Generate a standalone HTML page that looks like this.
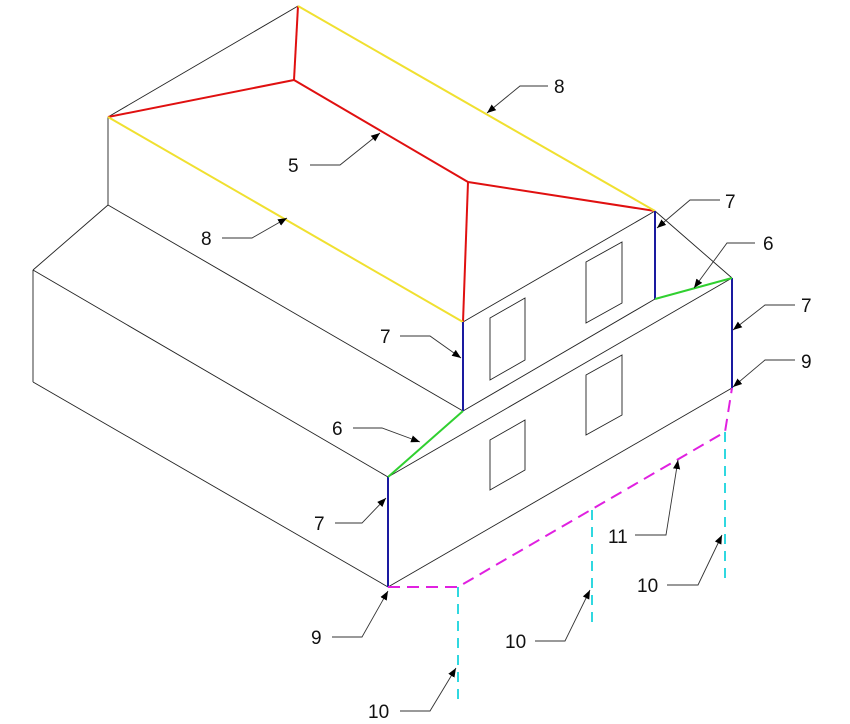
<!DOCTYPE html>
<html><head><meta charset="utf-8"><style>body{margin:0;background:#fff}svg{display:block}text{font-family:"Liberation Sans",sans-serif;font-size:19px;fill:#111}</style></head>
<body>
<svg width="850" height="724" viewBox="0 0 850 724" xmlns="http://www.w3.org/2000/svg">
<defs><marker id="a" viewBox="0 0 10 10" refX="10" refY="5" markerWidth="9" markerHeight="9" markerUnits="userSpaceOnUse" orient="auto"><path d="M0,1 L10,5 L0,9z" fill="#000"/></marker></defs>
<g stroke="#222" stroke-width="0.9" fill="none">
<line x1="298" y1="6" x2="108" y2="117"/>
<line x1="108" y1="117" x2="108" y2="205"/>
<line x1="108" y1="205" x2="33" y2="270"/>
<line x1="33" y1="270" x2="33" y2="382"/>
<line x1="33" y1="382" x2="388" y2="587"/>
<line x1="33" y1="270" x2="388" y2="477"/>
<line x1="108" y1="205" x2="463" y2="411"/>
<line x1="463" y1="322" x2="655" y2="211"/>
<line x1="655" y1="211" x2="732" y2="278"/>
<line x1="463" y1="411" x2="655" y2="299"/>
<line x1="388" y1="477" x2="732" y2="278"/>
<line x1="388" y1="587" x2="732" y2="388"/>
<path d="M490,318 L525,298 L525,360 L490,380Z"/>
<path d="M586,262 L622,242 L622,303 L586,323Z"/>
<path d="M490,440 L525,420 L525,470 L490,490Z"/>
<path d="M586,375 L622,355 L622,415 L586,435Z"/>
</g>
<g stroke-width="2" fill="none">
<g stroke="#e01010">
<line x1="298" y1="6" x2="294" y2="80"/>
<line x1="108" y1="117" x2="294" y2="80"/>
<line x1="294" y1="80" x2="468" y2="182"/>
<line x1="468" y1="182" x2="655" y2="211"/>
<line x1="468" y1="182" x2="463" y2="322"/>
</g>
<g stroke="#f0e030"><line x1="298" y1="6" x2="655" y2="211"/><line x1="108" y1="117" x2="463" y2="322"/></g>
<g stroke="#1a1aa0"><line x1="463" y1="322" x2="463" y2="411"/><line x1="655" y1="211" x2="655" y2="299"/><line x1="732" y1="278" x2="732" y2="388"/><line x1="388" y1="477" x2="388" y2="587"/></g>
<g stroke="#30d030"><line x1="655" y1="299" x2="732" y2="278"/><line x1="463" y1="411" x2="388" y2="477"/></g>
<path stroke="#e020e0" stroke-dasharray="12,7" d="M388,587 L458,587 L725,432 L732,388"/>
<g stroke="#30d8e0" stroke-dasharray="10,7"><line x1="458" y1="587" x2="458" y2="705"/><line x1="592" y1="510" x2="592" y2="628"/><line x1="725" y1="432" x2="725" y2="585"/></g>
</g>
<g stroke="#333" stroke-width="0.9" fill="none" marker-end="url(#a)">
<path d="M548,86 L520,86 L487,113"/>
<path d="M310,165 L340,165 L380,133"/>
<path d="M222,238 L252,238 L287,218"/>
<path d="M720,200 L690,200 L657,228"/>
<path d="M755,243 L727,243 L694,288"/>
<path d="M795,305 L765,305 L733,330"/>
<path d="M795,360 L765,360 L733,387"/>
<path d="M400,336 L430,336 L461,358"/>
<path d="M353,428 L382,428 L420,442"/>
<path d="M335,523 L362,523 L386,498"/>
<path d="M332,637 L362,637 L388,591"/>
<path d="M400,711 L430,711 L456,668"/>
<path d="M535,641 L565,641 L590,590"/>
<path d="M635,535 L666,535 L678,460"/>
<path d="M667,585 L698,585 L722,535"/>
</g>
<text x="554" y="93">8</text>
<text x="288" y="172">5</text>
<text x="201" y="245">8</text>
<text x="725" y="208">7</text>
<text x="763" y="250">6</text>
<text x="801" y="312">7</text>
<text x="801" y="368">9</text>
<text x="380" y="343">7</text>
<text x="332" y="435">6</text>
<text x="314" y="530">7</text>
<text x="311" y="644">9</text>
<text x="368" y="718">10</text>
<text x="505" y="648">10</text>
<text x="608" y="543">11</text>
<text x="637" y="592">10</text>
</svg>
</body></html>
